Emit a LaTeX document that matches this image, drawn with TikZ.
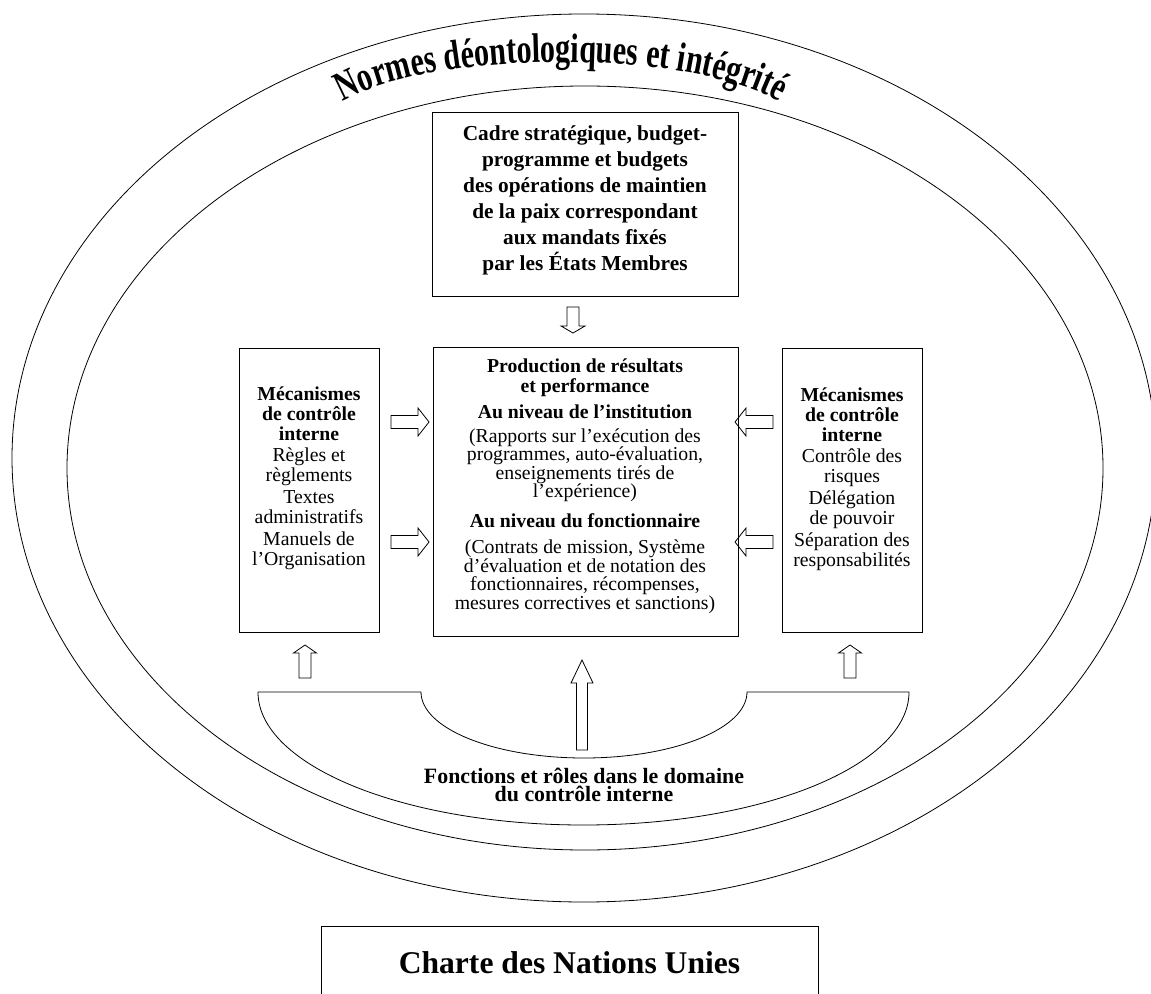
\documentclass[tikz,border=0pt]{standalone}
\usepackage{fontspec}
\setmainfont{Liberation Serif}
\newfontfamily\titlefont{Liberation Serif}[FakeStretch=0.73]
\usetikzlibrary{decorations.text}

\begin{document}
\begin{tikzpicture}[x=0.75pt, y=-0.75pt, line width=0.6pt,
    pics/hollow/.style n args={4}{code={
      \draw (0,-#3) -- ({#1-#2},-#3) -- ({#1-#2},-#4) -- (#1,0)
        -- ({#1-#2},#4) -- ({#1-#2},#3) -- (0,#3) -- cycle;}}]

  \useasboundingbox (0,0) rectangle (1151,994);
  \clip (0,0) rectangle (1151,994);

  % the two rings
  \draw (584,458) ellipse [x radius=572, y radius=444];
  \draw (585,468) ellipse [x radius=518, y radius=382];

  \path[decorate, decoration={text along path, text align=center,
      text={|\titlefont\bfseries\fontsize{31pt}{31pt}\selectfont|Normes déontologiques et intégrité}}]
    (561,135) ++(188:245 and 73) arc [start angle=188, end angle=352, x radius=245, y radius=73];

  % boxes
  \begin{scope}[every node/.style={draw, inner sep=0pt}]
    \node[minimum width=229.5pt, minimum height=138pt] (cadre) at (585,204) {};
    \node[minimum width=228.75pt, minimum height=216.75pt] (prod) at (585.5,491.5) {};
    \node[minimum width=105pt, minimum height=213pt] (mecag) at (309,490) {};
    \node[minimum width=105pt, minimum height=213pt] (mecad) at (852,490) {};
    \node[minimum width=372.75pt, minimum height=70.5pt] (charte) at (569.5,973) {};
  \end{scope}

  % half ring at the bottom
  \draw (258,692) -- (421,692)
    arc [start angle=180, end angle=0, x radius=163, y radius=66] -- (909,692)
    arc [start angle=0, end angle=180, x radius=325.5, y radius=133] -- cycle;

  % texts
  \begin{scope}[every node/.style={align=center, font=\fontsize{14.8pt}{15pt}\selectfont}]
    \node[font=\fontsize{16pt}{19.5pt}\selectfont] (cadretxt) at (585,200)
      {\textbf{Cadre stratégique, budget-}\\ \textbf{programme et budgets}\\
      \textbf{des opérations de maintien}\\ \textbf{de la paix correspondant}\\
      \textbf{aux mandats fixés}\\ \textbf{par les États Membres}};
    \node[font=\fontsize{14.8pt}{13.9pt}\selectfont] (prodtxt) at (585,486)
      {\textbf{Production de résultats}\\[1pt] \textbf{et performance}\\[5.6pt]
      \textbf{Au niveau de l’institution}\\[4.1pt]
      (Rapports sur l’exécution des\\ programmes, auto-évaluation,\\ enseignements tirés de\\ l’expérience)\\[8.6pt]
      \textbf{Au niveau du fonctionnaire}\\[5.6pt]
      (Contrats de mission, Système\\ d’évaluation et de notation des\\ fonctionnaires, récompenses,\\ mesures correctives et sanctions)};
    \node (mecagtxt) at (309,478) {\textbf{Mécanismes}\\ \textbf{de contrôle}\\ \textbf{interne}\\[1.2pt]
      Règles et\\ règlements\\[1.2pt] Textes\\ administratifs\\[1.2pt] Manuels de\\ l’Organisation};
    \node (mecadtxt) at (852,479) {\textbf{Mécanismes}\\ \textbf{de contrôle}\\ \textbf{interne}\\[1.2pt]
      Contrôle des\\ risques\\[1.2pt] Délégation\\ de pouvoir\\[1.2pt] Séparation des\\ responsabilités};
    \node[font=\fontsize{16.4pt}{13.5pt}\selectfont] (fonctions) at (584,785)
      {\textbf{Fonctions et rôles dans le domaine}\\ \textbf{du contrôle interne}};
    \node[font=\fontsize{23.7pt}{26pt}\selectfont\bfseries] (chartetxt) at (569.5,963) {Charte des Nations Unies};
  \end{scope}

  % hollow arrows
  \pic[rotate=-90] at (573,307) {hollow={26}{7}{6}{12}};
  \pic at (391,422) {hollow={38}{11}{6.5}{14}};
  \pic at (391,542) {hollow={38}{11}{6.5}{14}};
  \pic[rotate=180] at (773,422) {hollow={38}{11}{6.5}{14}};
  \pic[rotate=180] at (773,542) {hollow={38}{11}{6.5}{14}};
  \pic[rotate=90] at (305,678) {hollow={33}{8}{6}{11.5}};
  \pic[rotate=90] at (850,678) {hollow={33}{8}{6}{11.5}};
  \pic[rotate=90] at (582,750) {hollow={90}{23}{5.5}{11}};

\end{tikzpicture}
\end{document}
